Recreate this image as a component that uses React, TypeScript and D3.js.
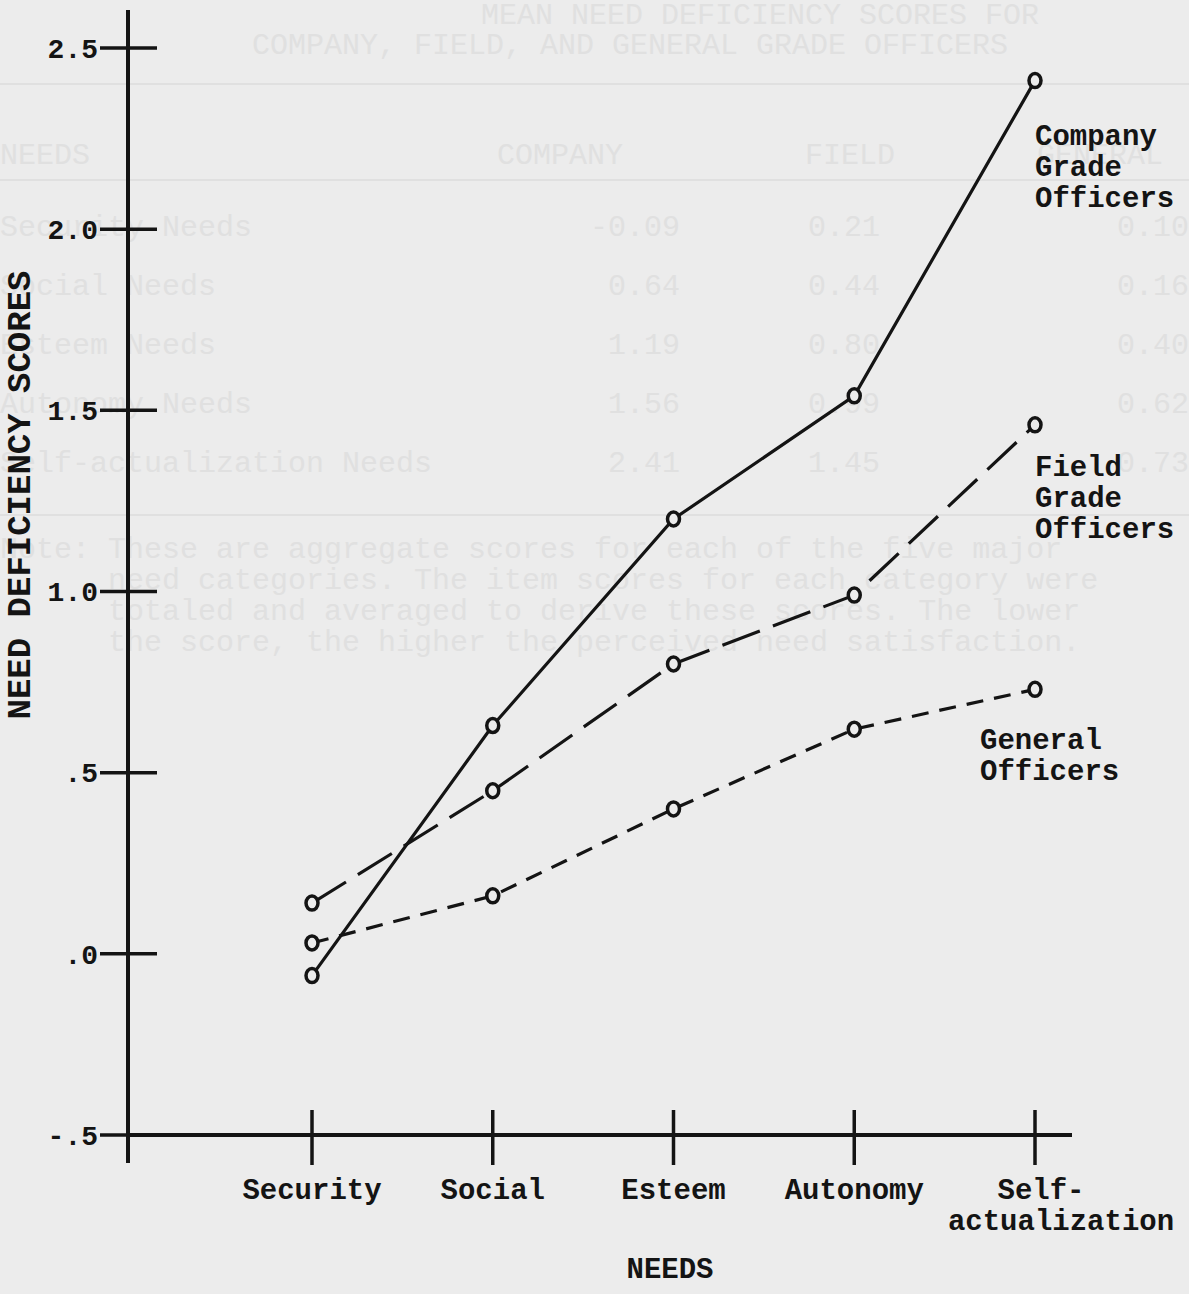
import { scaleLinear, scalePoint, line } from "d3";

const categories = ["Security", "Social", "Esteem", "Autonomy", "Self-actualization"];
const companyGrade = [-0.06, 0.63, 1.2, 1.54, 2.41];
const fieldGrade = [0.14, 0.45, 0.8, 0.99, 1.46];
const generalOfficers = [0.03, 0.16, 0.4, 0.62, 0.73];
const yTicks = [-0.5, 0, 0.5, 1.0, 1.5, 2.0, 2.5];
const yTickLabels = ["-.5", ".0", ".5", "1.0", "1.5", "2.0", "2.5"];

// faint table showing through from the other side of the page
const ghostTitle = ["MEAN NEED DEFICIENCY SCORES FOR", "COMPANY, FIELD, AND GENERAL GRADE OFFICERS"];
const ghostHeader = ["NEEDS", "COMPANY", "FIELD", "GENERAL"];
const ghostRows = ["Security Needs", "Social Needs", "Esteem Needs", "Autonomy Needs", "Self-actualization Needs"];
const ghostCol1 = ["-0.09", "0.64", "1.19", "1.56", "2.41"];
const ghostCol2 = ["0.21", "0.44", "0.80", "0.99", "1.45"];
const ghostCol3 = ["0.10", "0.16", "0.40", "0.62", "0.73"];
const ghostNote = [
  "Note: These are aggregate scores for each of the five major",
  "need categories.  The item scores for each category were",
  "totaled and averaged to derive these scores.  The lower",
  "the score, the higher the perceived need satisfaction.",
];

const W = 1189;
const H = 1294;
const INK = "#141414";
const PAPER = "#ececec";
const GHOST = "#e0e0e0";
const FONT = "'Liberation Mono', 'DejaVu Sans Mono', monospace";

export default function App() {
  const x = scalePoint<string>().domain(categories).range([312, 1035]);
  const y = scaleLinear().domain([-0.5, 2.5]).range([1135, 48]);
  const axisX = 128;

  const series = [
    { key: "company", values: companyGrade, dash: undefined as string | undefined, label: ["Company", "Grade", "Officers"], lx: 1035, ly: 145 },
    { key: "field", values: fieldGrade, dash: "40 14", label: ["Field", "Grade", "Officers"], lx: 1035, ly: 476 },
    { key: "general", values: generalOfficers, dash: "17 11", label: ["General", "Officers"], lx: 980, ly: 749 },
  ];

  const path = line<number>()
    .x((_, i) => x(categories[i])!)
    .y((d) => y(d));

  const rowY = scaleLinear().domain([0, ghostRows.length - 1]).range([236, 472]);

  return (
    <svg
      width={W}
      height={H}
      viewBox={`0 0 ${W} ${H}`}
      style={{ position: "absolute", left: 0, top: 0, background: PAPER }}
      fontFamily={FONT}
    >
      <rect width={W} height={H} fill={PAPER} />

      {/* bleed-through from the facing page */}
      <g fill={GHOST} fontSize={30}>
        {ghostTitle.map((t, i) => (
          <text key={t} x={i === 0 ? 760 : 630} y={24 + i * 30} textAnchor="middle">{t}</text>
        ))}
        <line x1={0} x2={W} y1={84} y2={84} stroke={GHOST} strokeWidth={2} />
        <text x={0} y={164}>{ghostHeader[0]}</text>
        <text x={560} y={164} textAnchor="middle">{ghostHeader[1]}</text>
        <text x={850} y={164} textAnchor="middle">{ghostHeader[2]}</text>
        <text x={1100} y={164} textAnchor="middle">{ghostHeader[3]}</text>
        <line x1={0} x2={W} y1={180} y2={180} stroke={GHOST} strokeWidth={2} />
        {ghostRows.map((r, i) => (
          <g key={r}>
            <text x={0} y={rowY(i)}>{r}</text>
            <text x={680} y={rowY(i)} textAnchor="end">{ghostCol1[i]}</text>
            <text x={880} y={rowY(i)} textAnchor="end">{ghostCol2[i]}</text>
            <text x={1189} y={rowY(i)} textAnchor="end">{ghostCol3[i]}</text>
          </g>
        ))}
        <line x1={0} x2={W} y1={515} y2={515} stroke={GHOST} strokeWidth={2} />
        {ghostNote.map((t, i) => (
          <text key={i} x={i === 0 ? 0 : 108} y={558 + i * 31}>{t}</text>
        ))}
      </g>

      {/* y axis */}
      <line x1={axisX} x2={axisX} y1={10} y2={1163} stroke={INK} strokeWidth={4} />
      {yTicks.map((t, i) => (
        <g key={t}>
          <line x1={100} x2={157} y1={y(t)} y2={y(t)} stroke={INK} strokeWidth={3.5} />
          <text x={98} y={y(t)} dy="0.35em" textAnchor="end" fontSize={28} fontWeight="bold" fill={INK}>
            {yTickLabels[i]}
          </text>
        </g>
      ))}
      <text
        transform={`translate(30,${(265 + 725) / 2}) rotate(-90)`}
        textAnchor="middle"
        fontSize={34}
        fontWeight="bold"
        fill={INK}
      >
        NEED DEFICIENCY SCORES
      </text>

      {/* x axis */}
      <line x1={axisX} x2={1072} y1={y(-0.5)} y2={y(-0.5)} stroke={INK} strokeWidth={4} />
      {categories.map((c, i) => {
        const cx = x(c)!;
        const last = i === categories.length - 1;
        return (
          <g key={c}>
            <line x1={cx} x2={cx} y1={1110} y2={1165} stroke={INK} strokeWidth={3.5} />
            {last ? (
              <text fontSize={29} fontWeight="bold" fill={INK} textAnchor="middle">
                <tspan x={cx + 6} y={1199}>Self-</tspan>
                <tspan x={cx + 26} y={1230}>actualization</tspan>
              </text>
            ) : (
              <text x={cx} y={1199} textAnchor="middle" fontSize={29} fontWeight="bold" fill={INK}>
                {c}
              </text>
            )}
          </g>
        );
      })}
      <text x={670} y={1278} textAnchor="middle" fontSize={29} fontWeight="bold" fill={INK}>
        NEEDS
      </text>

      {/* series */}
      {series.map((s) => (
        <g key={s.key}>
          <path d={path(s.values)!} fill="none" stroke={INK} strokeWidth={3.2} strokeDasharray={s.dash} />
          {s.values.map((v, i) => (
            <ellipse
              key={i}
              cx={x(categories[i])}
              cy={y(v)}
              rx={6}
              ry={7}
              fill={PAPER}
              stroke={INK}
              strokeWidth={3.5}
            />
          ))}
          <text fontSize={29} fontWeight="bold" fill={INK}>
            {s.label.map((l, j) => (
              <tspan key={j} x={s.lx} y={s.ly + j * 31}>{l}</tspan>
            ))}
          </text>
        </g>
      ))}
    </svg>
  );
}
